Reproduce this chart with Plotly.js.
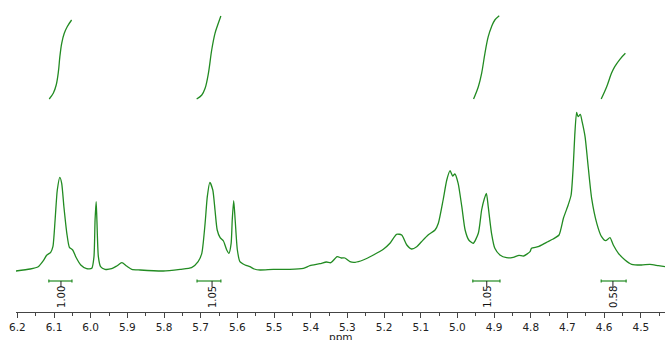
<!DOCTYPE html>
<html>
<head>
<meta charset="utf-8">
<script src="https://cdn.plot.ly/plotly-3.0.1.min.js"></script>
<style>html,body{margin:0;padding:0;background:#fff;}#chart{width:665px;height:340px;}</style>
</head>
<body>
<div id="chart"></div>
<script>
// Spectrum (chemical shift in ppm, intensity in arbitrary units)
const ppm = [6.204,6.165,6.143,6.129,6.120,6.109,6.103,6.097,6.091,6.084,6.079,6.073,6.065,6.058,6.049,6.040,6.027,6.011,5.997,5.991,5.988,5.985,5.983,5.979,5.973,5.961,5.943,5.929,5.915,5.902,5.888,5.865,5.802,5.756,5.725,5.707,5.697,5.688,5.682,5.675,5.667,5.661,5.655,5.647,5.638,5.629,5.623,5.617,5.614,5.610,5.606,5.600,5.593,5.579,5.566,5.554,5.538,5.502,5.457,5.420,5.402,5.375,5.357,5.345,5.328,5.316,5.307,5.293,5.279,5.257,5.229,5.202,5.184,5.166,5.152,5.138,5.125,5.111,5.098,5.080,5.061,5.052,5.039,5.029,5.020,5.013,5.007,4.998,4.988,4.979,4.969,4.957,4.943,4.934,4.927,4.921,4.916,4.907,4.898,4.884,4.866,4.848,4.832,4.820,4.802,4.798,4.780,4.757,4.739,4.723,4.711,4.698,4.690,4.684,4.680,4.675,4.671,4.665,4.660,4.652,4.643,4.634,4.620,4.607,4.596,4.584,4.575,4.561,4.543,4.525,4.498,4.475,4.452,4.434];
const intensity = [-1,1,3.3,9.3,14.7,17.7,23.3,50,80,92.7,86.7,63.3,36.7,22.7,20,12.7,5,1.3,1.7,13.3,50,68.3,50,13.3,3.3,0.7,1.3,4,7.3,4,0.7,0,-1,0.7,2.3,8.3,16.7,46.7,73.3,87.7,80,60,40,32.3,29,20,16.7,26.7,50,69.3,50,20,8.3,5,3.3,1,0,0.7,0.7,1.7,4.3,6.3,8,7.3,13.3,12,12,8.3,7.7,10,15,20.7,26.7,35.7,35,25,21,23.3,28.3,35,40,46.7,70,90,99.3,94,96,86.7,63.3,40,30,26.7,36.7,60,70.7,76.7,63.3,36.7,21.7,15,12.3,12.7,14.7,14,18.3,21.7,23.3,27.7,31,35,51.7,65,75,105,135,157.7,153.3,155.7,148.3,133.3,101.7,71.7,46.7,33.3,29.3,32.3,25,16.7,10,5.7,5,5.7,4.3,3.3];

// Integral curves (ppm, height)
const int1Ppm = [6.113,6.102,6.094,6.088,6.084,6.079,6.072,6.064,6.052];
const int1Val = [171,176.7,185,198.3,213.3,226.7,236.7,243.3,250];
const int2Ppm = [5.711,5.697,5.688,5.679,5.670,5.661,5.652,5.645];
const int2Val = [171,175,181.7,196.7,220,236.7,246.7,254];
const int3Ppm = [4.956,4.943,4.934,4.925,4.916,4.907,4.898,4.886];
const int3Val = [171,183.3,196.7,216.7,233.3,243.3,250,254.3];
const int4Ppm = [4.608,4.593,4.580,4.571,4.557,4.542];
const int4Val = [171,183.3,196.7,203.3,210.7,216.7];

// Integration regions
const regStart = [6.114, 5.710, 4.958, 4.608];
const regEnd = [6.051, 5.645, 4.884, 4.540];
const regCenter = [6.081, 5.669, 4.920, 4.576];
const regLabels = ['1.00', '1.05', '1.05', '0.58'];

// x-axis ticks
const tickVals = [6.2,6.1,6.0,5.9,5.8,5.7,5.6,5.5,5.4,5.3,5.2,5.1,5.0,4.9,4.8,4.7,4.6,4.5];
const tickText = ['6.2','6.1','6.0','5.9','5.8','5.7','5.6','5.5','5.4','5.3','5.2','5.1','5.0','4.9','4.8','4.7','4.6','4.5'];
const xTitle = 'ppm';

const GREEN = 'rgb(34,139,34)';
const FONT = 'DejaVu Sans, Verdana, sans-serif';
const traces = [];
traces.push({x: ppm, y: intensity, type: 'scatter', mode: 'lines', line: {color: GREEN, width: 1.3, shape: 'spline', smoothing: 0.6}, hoverinfo: 'skip'});
[[int1Ppm,int1Val],[int2Ppm,int2Val],[int3Ppm,int3Val],[int4Ppm,int4Val]].forEach(([xs, ys]) => {
  traces.push({x: xs, y: ys, type: 'scatter', mode: 'lines', line: {color: GREEN, width: 1.3, shape: 'spline'}, hoverinfo: 'skip'});
});
const BAR_Y = -11;
const annotations = [];
for (let i = 0; i < regStart.length; i++) {
  const s = regStart[i], e = regEnd[i], c = regCenter[i];
  traces.push({
    x: [s, s, null, s, e, null, e, e],
    y: [BAR_Y + 1.5, BAR_Y - 1.5, null, BAR_Y, BAR_Y, null, BAR_Y + 1.5, BAR_Y - 1.5],
    type: 'scatter', mode: 'lines', line: {color: GREEN, width: 1.2}, hoverinfo: 'skip'
  });
  traces.push({
    x: [c, c], y: [BAR_Y, BAR_Y - 6],
    type: 'scatter', mode: 'lines', line: {color: '#222', width: 1}, hoverinfo: 'skip'
  });
  annotations.push({x: c, y: BAR_Y - 16, xref: 'x', yref: 'y', text: regLabels[i], showarrow: false, textangle: -90,
    font: {family: FONT, size: 10, color: '#111'}});
}
// axis title placed just below the tick labels
annotations.push({x: 0.5, xref: 'paper', y: -0.056, yref: 'paper', yanchor: 'top', text: xTitle, showarrow: false,
  font: {family: FONT, size: 10.5, color: '#222'}});

const layout = {
  width: 665, height: 340,
  margin: {l: 16, r: 0, t: 0, b: 28},
  paper_bgcolor: '#fff', plot_bgcolor: '#fff',
  showlegend: false,
  xaxis: {
    range: [6.2036, 4.434], showgrid: false, zeroline: false,
    showline: true, linecolor: '#444', linewidth: 1,
    tickmode: 'array', tickvals: tickVals, ticktext: tickText,
    ticks: 'outside', ticklen: 5, tickcolor: '#444',
    minor: {dtick: 0.05, tick0: 0, ticks: 'outside', ticklen: 3, tickcolor: '#444', showgrid: false},
    tickfont: {family: FONT, size: 10.5, color: '#222'}
  },
  yaxis: {range: [-42, 270], visible: false, showgrid: false, zeroline: false},
  annotations: annotations
};
Plotly.newPlot('chart', traces, layout, {displayModeBar: false, staticPlot: true});
</script>
</body>
</html>
